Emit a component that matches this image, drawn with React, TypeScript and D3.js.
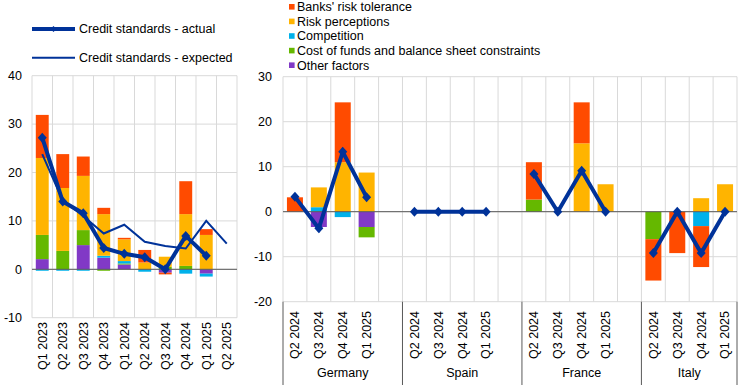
import React, { useEffect, useRef } from 'react';
import * as d3 from 'd3';

// euro area panel
const eaQuarters = ['Q1 2023', 'Q2 2023', 'Q3 2023', 'Q4 2023', 'Q1 2024', 'Q2 2024', 'Q3 2024', 'Q4 2024', 'Q1 2025', 'Q2 2025'];
const eaOther = [2.1, 0, 5.0, 2.4, 1.0, 0, -0.7, 0, -0.9, 0];
const eaCost = [5.0, 3.8, 3.1, -0.3, 0.2, 0, 0.5, 0.7, 0, 0];
const eaCompetition = [-0.3, -0.3, -0.3, 0.4, 0.5, -0.5, 0, -0.9, -0.6, 0];
const eaRisk = [15.9, 13.0, 11.2, 8.6, 4.5, 1.4, 2.1, 10.7, 7.1, 0];
const eaTolerance = [8.9, 7.0, 4.0, 1.3, 0.3, 2.6, -0.35, 6.8, 1.2, 0];
const eaActual = [27.2, 14.0, 11.6, 4.4, 3.2, 2.5, 0.0, 6.9, 2.8];
const eaExpected = [23.8, 14.2, 11.0, 7.4, 9.2, 5.7, 4.8, 4.3, 10.0, 5.3];

// country panel
const countries = ['Germany', 'Spain', 'France', 'Italy'];
const ctyQuarters = ['Q2 2024', 'Q3 2024', 'Q4 2024', 'Q1 2025'];
const ctyOther = [[0, -3.4, 0, -3.4], [0, 0, 0, 0], [0, 0, 0, 0], [0, 0, 0, 0]];
const ctyCost = [[0, 0, 0, -2.3], [0, 0, 0, 0], [2.7, 0, 0, 0], [-6.1, 0, 0, 0]];
const ctyCompetition = [[0, 1.0, -1.2, 0], [0, 0, 0, 0], [0, 0, 0, 0], [0, 0, -3.2, 0]];
const ctyRisk = [[0, 4.4, 11.0, 8.7], [0, 0, 0, 0], [0, 0, 15.2, 6.1], [0, 0, 3.0, 6.1]];
const ctyTolerance = [[3.2, 0, 13.3, 0], [0, 0, 0, 0], [8.3, 0, 9.1, 0], [-9.2, -9.2, -9.1, 0]];
const ctyActual = [[3.3, -3.7, 13.3, 3.2], [0, 0, 0, 0], [8.4, 0, 9.1, 0], [-9.2, 0, -9.2, 0]];

const factorNames = ["Banks' risk tolerance", 'Risk perceptions', 'Competition', 'Cost of funds and balance sheet constraints', 'Other factors'];
const factorKeys = ['other', 'cost', 'competition', 'risk', 'tolerance'];
const colors: Record<string, string> = {
    tolerance: '#FF4B00',
    risk: '#FFB400',
    competition: '#00B1EA',
    cost: '#65B800',
    other: '#8139C6',
};
const legendKeys = ['tolerance', 'risk', 'competition', 'cost', 'other'];
const lineBlue = '#003299';
const font = '"Liberation Sans", Arial, sans-serif';

const diamond = 'M0,-5L4.5,0L0,5L-4.5,0Z';

const App = () => {
    const ref = useRef<SVGSVGElement>(null);

    useEffect(() => {
        const svg = d3.select(ref.current);
        svg.selectAll('*').remove();
        const stack = d3.stack<any>().keys(factorKeys).offset(d3.stackOffsetDiverging);

        // ---------- left panel ----------
        const x1 = d3.scaleBand().domain(eaQuarters).range([32, 237]).paddingInner(0.37).paddingOuter(0.185);
        const y1 = d3.scaleLinear().domain([-10, 40]).range([317.7, 75.7]);
        const g1 = svg.append('g');
        const step1 = x1.step();
        const left0 = 32;

        g1.selectAll('.hg').data(y1.ticks(5)).join('line')
            .attr('x1', left0).attr('x2', 237)
            .attr('y1', d => y1(d)).attr('y2', d => y1(d))
            .attr('stroke', '#D9D9D9');
        g1.selectAll('.vg').data(d3.range(eaQuarters.length + 1)).join('line')
            .attr('x1', d => left0 + d * step1).attr('x2', d => left0 + d * step1)
            .attr('y1', y1(40)).attr('y2', y1(-10))
            .attr('stroke', '#D9D9D9');
        g1.selectAll('.yl').data(y1.ticks(5)).join('text')
            .attr('x', 22).attr('y', d => y1(d)).attr('dy', '0.35em')
            .attr('text-anchor', 'end').text(d => d);

        const eaRows = eaQuarters.map((q, i) => ({
            q, other: eaOther[i], cost: eaCost[i], competition: eaCompetition[i], risk: eaRisk[i], tolerance: eaTolerance[i],
        }));
        g1.selectAll('.s').data(stack(eaRows)).join('g')
            .attr('fill', d => colors[d.key])
            .selectAll('rect').data(d => d).join('rect')
            .attr('x', d => x1(d.data.q)!)
            .attr('width', x1.bandwidth())
            .attr('y', d => y1(Math.max(d[0], d[1])))
            .attr('height', d => Math.abs(y1(d[0]) - y1(d[1])));

        g1.append('line').attr('x1', left0).attr('x2', 237)
            .attr('y1', y1(0)).attr('y2', y1(0)).attr('stroke', '#595959');

        const cx1 = (q: string) => x1(q)! + x1.bandwidth() / 2;
        g1.append('path').datum(eaExpected)
            .attr('fill', 'none').attr('stroke', lineBlue).attr('stroke-width', 2)
            .attr('d', d3.line<number>().x((d, i) => cx1(eaQuarters[i])).y(d => y1(d)));
        g1.append('path').datum(eaActual)
            .attr('fill', 'none').attr('stroke', lineBlue).attr('stroke-width', 4)
            .attr('d', d3.line<number>().x((d, i) => cx1(eaQuarters[i])).y(d => y1(d)));
        g1.selectAll('.m').data(eaActual).join('path')
            .attr('d', diamond).attr('fill', lineBlue)
            .attr('transform', (d, i) => `translate(${cx1(eaQuarters[i])},${y1(d)})`);

        g1.selectAll('.xl').data(eaQuarters).join('text')
            .attr('transform', d => `translate(${cx1(d)},322) rotate(-90)`)
            .attr('dy', '0.35em').attr('text-anchor', 'end').text(d => d);

        // ---------- right panel ----------
        const slots: string[] = [];
        countries.forEach((c, ci) => {
            ctyQuarters.forEach(q => slots.push(c + '|' + q));
            if (ci < countries.length - 1) slots.push(c + '|gap');
        });
        const x2 = d3.scaleBand().domain(slots).range([283, 737]).paddingInner(0.33).paddingOuter(0.165);
        const y2 = d3.scaleLinear().domain([-20, 30]).range([301.7, 76.7]);
        const g2 = svg.append('g');
        const step2 = x2.step();
        const left2 = 283;

        g2.selectAll('.hg').data(y2.ticks(5)).join('line')
            .attr('x1', left2).attr('x2', 737)
            .attr('y1', d => y2(d)).attr('y2', d => y2(d))
            .attr('stroke', '#D9D9D9');
        g2.selectAll('.vg').data(d3.range(slots.length + 1)).join('line')
            .attr('x1', d => left2 + d * step2).attr('x2', d => left2 + d * step2)
            .attr('y1', y2(30)).attr('y2', y2(-20))
            .attr('stroke', '#D9D9D9');
        g2.selectAll('.yl').data(y2.ticks(5)).join('text')
            .attr('x', 272).attr('y', d => y2(d)).attr('dy', '0.35em')
            .attr('text-anchor', 'end').text(d => d);

        const ctyRows = countries.flatMap((c, ci) => ctyQuarters.map((q, qi) => ({
            slot: c + '|' + q,
            other: ctyOther[ci][qi], cost: ctyCost[ci][qi], competition: ctyCompetition[ci][qi],
            risk: ctyRisk[ci][qi], tolerance: ctyTolerance[ci][qi],
        })));
        g2.selectAll('.s').data(stack(ctyRows)).join('g')
            .attr('fill', d => colors[d.key])
            .selectAll('rect').data(d => d).join('rect')
            .attr('x', d => x2(d.data.slot)!)
            .attr('width', x2.bandwidth())
            .attr('y', d => y2(Math.max(d[0], d[1])))
            .attr('height', d => Math.abs(y2(d[0]) - y2(d[1])));

        g2.append('line').attr('x1', left2).attr('x2', 737)
            .attr('y1', y2(0)).attr('y2', y2(0)).attr('stroke', '#595959');

        const cx2 = (s: string) => x2(s)! + x2.bandwidth() / 2;
        countries.forEach((c, ci) => {
            const pts = ctyActual[ci].map((v, qi) => [cx2(c + '|' + ctyQuarters[qi]), y2(v)] as [number, number]);
            g2.append('path').datum(pts)
                .attr('fill', 'none').attr('stroke', lineBlue).attr('stroke-width', 4)
                .attr('d', d3.line());
            g2.append('g').selectAll('path').data(pts).join('path')
                .attr('d', diamond).attr('fill', lineBlue)
                .attr('transform', d => `translate(${d[0]},${d[1]})`);
        });

        g2.selectAll('.xl').data(ctyRows).join('text')
            .attr('transform', d => `translate(${cx2(d.slot)},311) rotate(-90)`)
            .attr('dy', '0.35em').attr('text-anchor', 'end').text(d => d.slot.split('|')[1]);

        // group separators and names
        const half = (x2.step() - x2.bandwidth()) / 2;
        const bounds = countries.map((c, ci) => {
            const start = x2(c + '|' + ctyQuarters[0])! - half;
            const endSlot = ci < countries.length - 1 ? c + '|gap' : c + '|' + ctyQuarters[3];
            const end = x2(endSlot)! + x2.bandwidth() + half;
            return { c, start, end };
        });
        const seps = [bounds[0].start, ...bounds.map(b => b.end)];
        g2.selectAll('.sep').data(seps).join('line')
            .attr('x1', d => d).attr('x2', d => d)
            .attr('y1', y2(-20)).attr('y2', 385)
            .attr('stroke', '#595959');
        g2.selectAll('.gl').data(bounds).join('text')
            .attr('x', d => (d.start + d.end) / 2).attr('y', 377)
            .attr('text-anchor', 'middle').text(d => d.c);

        // ---------- legends ----------
        const lg = svg.append('g');
        lg.append('line').attr('x1', 32).attr('x2', 75).attr('y1', 29).attr('y2', 29)
            .attr('stroke', lineBlue).attr('stroke-width', 4);
        lg.append('path').attr('d', 'M0,-3L3,0L0,3L-3,0Z').attr('fill', lineBlue)
            .attr('transform', 'translate(53.5,29)');
        lg.append('text').attr('x', 79).attr('y', 29).attr('dy', '0.35em').text('Credit standards - actual');
        lg.append('line').attr('x1', 32).attr('x2', 75).attr('y1', 57.7).attr('y2', 57.7)
            .attr('stroke', lineBlue).attr('stroke-width', 2);
        lg.append('text').attr('x', 79).attr('y', 57.7).attr('dy', '0.35em').text('Credit standards - expected');

        const rows = lg.selectAll('.lr').data(legendKeys).join('g')
            .attr('transform', (d, i) => `translate(289,${6.8 + i * 14.6})`);
        rows.append('rect').attr('x', 0).attr('y', -2.8).attr('width', 5.6).attr('height', 5.6)
            .attr('fill', d => colors[d]);
        rows.append('text').attr('x', 8).attr('y', 0).attr('dy', '0.35em')
            .text((d, i) => factorNames[i]);

        svg.selectAll('text').attr('font-family', font).attr('font-size', 12.5).attr('fill', '#000');
    }, []);

    return (
        <div style={{ position: 'absolute', left: 0, top: 0 }}>
            <svg ref={ref} width={744} height={385} style={{ display: 'block', background: '#fff' }}></svg>
        </div>
    );
};

export default App;
